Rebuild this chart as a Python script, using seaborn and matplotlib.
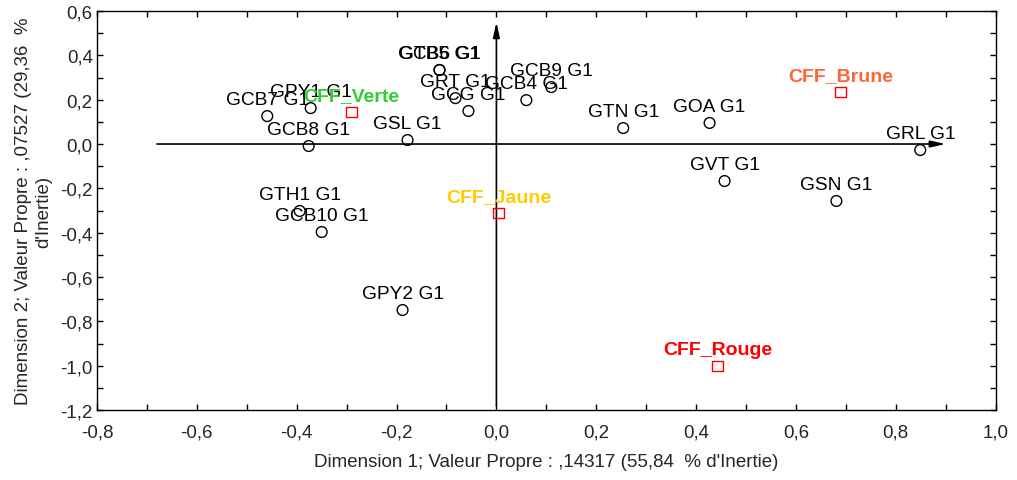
import matplotlib
matplotlib.use("Agg")
import matplotlib.pyplot as plt
import matplotlib.ticker as mticker
import seaborn as sns
import pandas as pd

# ---- data ----
point_labels = ["GCB7 G1", "GPY1 G1", "GCB8 G1", "GSL G1", "GTB5 G1", "GCB6 G1",
                "GRT G1", "GCG G1", "GCB4 G1", "GCB9 G1", "GTN G1", "GOA G1",
                "GRL G1", "GVT G1", "GSN G1", "GTH1 G1", "GCB10 G1", "GPY2 G1"]
point_x = [-0.459, -0.372, -0.376, -0.178, -0.114, -0.114,
           -0.082, -0.056, 0.060, 0.110, 0.254, 0.427,
           0.849, 0.457, 0.681, -0.394, -0.350, -0.188]
point_y = [0.126, 0.162, -0.009, 0.018, 0.334, 0.334,
           0.207, 0.149, 0.198, 0.257, 0.072, 0.095,
           -0.027, -0.167, -0.257, -0.302, -0.397, -0.749]

cff_labels = ["CFF_Verte", "CFF_Brune", "CFF_Jaune", "CFF_Rouge"]
cff_x = [-0.290, 0.689, 0.004, 0.443]
cff_y = [0.144, 0.235, -0.311, -1.001]
cff_colors = ["#33cc33", "#ff6633", "#ffcc00", "#ff0000"]

x_label = "Dimension 1; Valeur Propre : ,14317 (55,84  % d'Inertie)"
y_label = "Dimension 2; Valeur Propre : ,07527 (29,36  %\nd'Inertie)"

sns.set_style("white")
plt.rcParams["font.family"] = ["Liberation Sans", "DejaVu Sans"]

fig = plt.figure(figsize=(10.17, 4.81), dpi=100)
ax = fig.add_axes([0.0954, 0.1455, 0.9836 - 0.0954 - 0.0046, 0.975 - 0.1455])

df_p = pd.DataFrame({"x": point_x, "y": point_y, "label": point_labels})
df_c = pd.DataFrame({"x": cff_x, "y": cff_y, "label": cff_labels})

ax.set_xlim(-0.8, 1.0)
ax.set_ylim(-1.2, 0.6)

# axis arrows
arrow_kw = dict(arrowstyle="-|>,head_length=0.9,head_width=0.2", color="black", lw=1.2,
                shrinkA=0, shrinkB=0)
ax.annotate("", xy=(0.90, 0), xytext=(-0.68, 0), arrowprops=arrow_kw, zorder=1)
ax.annotate("", xy=(0, 0.55), xytext=(0, -1.18), arrowprops=arrow_kw, zorder=1)

sns.scatterplot(data=df_p, x="x", y="y", ax=ax, marker="o", s=60,
                facecolor="none", edgecolor="black", linewidth=1.0, zorder=3)
sns.scatterplot(data=df_c, x="x", y="y", ax=ax, marker="s", s=60,
                facecolor="none", edgecolor="#ff0000", linewidth=1.0, zorder=3)

for lab, x, y in zip(point_labels, point_x, point_y):
    ax.annotate(lab, (x, y), xytext=(0, 6), textcoords="offset points",
                ha="center", va="bottom", fontsize=13.8, color="black", zorder=4)
for lab, x, y, c in zip(cff_labels, cff_x, cff_y, cff_colors):
    ax.annotate(lab, (x, y), xytext=(0, 6), textcoords="offset points",
                ha="center", va="bottom", fontsize=14, fontweight="bold",
                color=c, zorder=4)

ax.xaxis.set_major_locator(mticker.MultipleLocator(0.2))
ax.xaxis.set_minor_locator(mticker.MultipleLocator(0.1))
ax.yaxis.set_major_locator(mticker.MultipleLocator(0.2))
ax.yaxis.set_minor_locator(mticker.MultipleLocator(0.1))
fmt = mticker.FuncFormatter(lambda v, p: f"{v:.1f}".replace(".", ",").replace("-0,0", "0,0"))
ax.xaxis.set_major_formatter(fmt)
ax.yaxis.set_major_formatter(fmt)
ax.tick_params(which="both", direction="in", length=4, width=1, color="black",
               top=True, right=True, bottom=True, left=True)
ax.tick_params(axis="x", which="major", labelsize=13.5, pad=10)
ax.tick_params(axis="y", which="major", labelsize=13.5, pad=3)

for sp in ax.spines.values():
    sp.set_color("black")
    sp.set_linewidth(1.0)

ax.set_xlabel(x_label, fontsize=13.5, labelpad=9)
ax.set_ylabel(y_label, fontsize=13.5, labelpad=6)

fig.savefig("out.png", dpi=100)
